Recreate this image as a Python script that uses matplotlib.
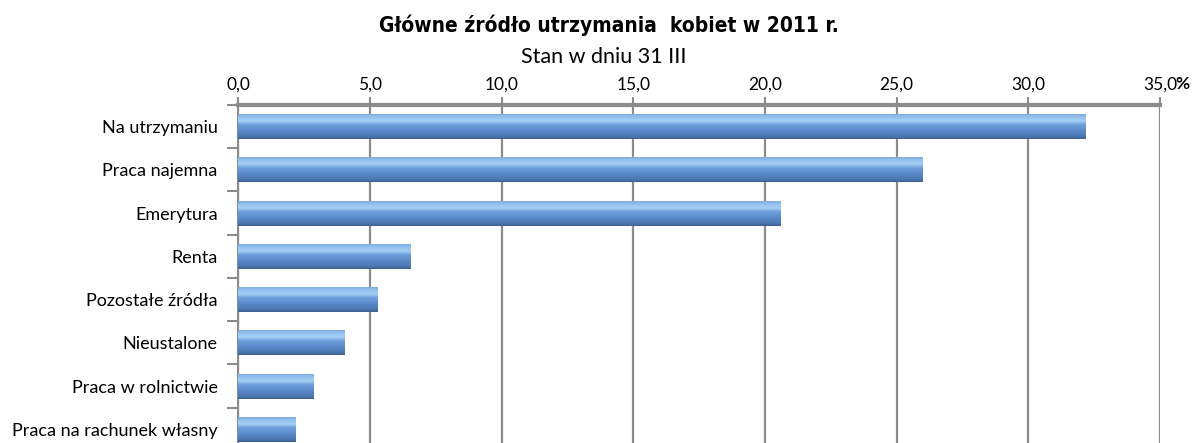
import numpy as np
import matplotlib
matplotlib.use('Agg')
import matplotlib.pyplot as plt
from matplotlib.colors import LinearSegmentedColormap
import matplotlib.transforms as mtransforms

# data
categories = ['Na utrzymaniu', 'Praca najemna', 'Emerytura', 'Renta',
              'Pozostałe źródła', 'Nieustalone', 'Praca w rolnictwie',
              'Praca na rachunek własny']
values = [32.2, 26.0, 20.6, 6.55, 5.3, 4.05, 2.85, 2.2]
ticks = [0, 5, 10, 15, 20, 25, 30, 35]
tick_labels = ['0,0', '5,0', '10,0', '15,0', '20,0', '25,0', '30,0', '35,0']

title = 'Główne źródło utrzymania  kobiet w 2011 r.'
subtitle = 'Stan w dniu 31 III'

body_font = ['Lato', 'DejaVu Sans']

fig = plt.figure(figsize=(11.96, 4.43), dpi=100)
ax = fig.add_axes([0.1994, -0.018, 0.7705, 0.781])

y = np.arange(len(categories))
bars = ax.barh(y, values, height=0.58, color='#5b8ccd', zorder=3)

# glossy vertical gradient on each bar
grad_cmap = LinearSegmentedColormap.from_list('gloss', [
    (0.0, '#7aa5dc'), (0.12, '#8fbcec'), (0.3, '#a7d0f6'),
    (0.45, '#6e9fdc'), (0.75, '#5683c2'), (0.92, '#4b75ad'), (1.0, '#3b5d8c')])
grad = np.linspace(0, 1, 100).reshape(-1, 1)
for b in bars:
    x0, y0 = b.get_x(), b.get_y()
    w, h = b.get_width(), b.get_height()
    im = ax.imshow(grad, cmap=grad_cmap, aspect='auto', interpolation='bicubic',
                   extent=(x0, x0 + w, y0 + h, y0), zorder=4)
    im.set_clip_path(b)

ax.set_xlim(0, 35)
ax.set_ylim(len(categories) - 0.5, -0.5)

ax.xaxis.tick_top()
ax.set_xticks(ticks)
ax.set_xticklabels(tick_labels, fontsize=12.5, family=body_font)
ax.tick_params(axis='x', length=6, width=1.5, color='#8c8c8c', pad=3, direction='out')
pct_offset = mtransforms.ScaledTranslation(0, 9 / 72, fig.dpi_scale_trans)
ax.text(35.6, -0.5, '%', transform=ax.transData + pct_offset, fontsize=12.5,
        fontweight='bold', family=body_font, va='bottom', ha='left')

ax.set_yticks(y)
ax.set_yticklabels(categories, fontsize=13, family=body_font)
ax.set_yticks(np.arange(-0.5, len(categories), 1), minor=True)
ax.tick_params(axis='y', which='major', length=0, pad=15)
ax.tick_params(axis='y', which='minor', length=8, width=1.5, color='#8c8c8c')

ax.grid(axis='x', color='#8c8c8c', linewidth=1.6, zorder=1)
ax.set_axisbelow(True)
for s in ['right', 'bottom']:
    ax.spines[s].set_visible(False)
ax.spines['top'].set_color('#8c8c8c')
ax.spines['top'].set_linewidth(3)
ax.spines['left'].set_color('#8c8c8c')
ax.spines['left'].set_linewidth(1.5)

fig.text(0.509, 0.943, title, ha='center', va='center', fontsize=15,
         fontweight='bold', family='DejaVu Sans', fontstretch='condensed')
fig.text(0.505, 0.871, subtitle, ha='center', va='center', fontsize=15.5,
         family=body_font)

fig.savefig('out.png', dpi=100)
